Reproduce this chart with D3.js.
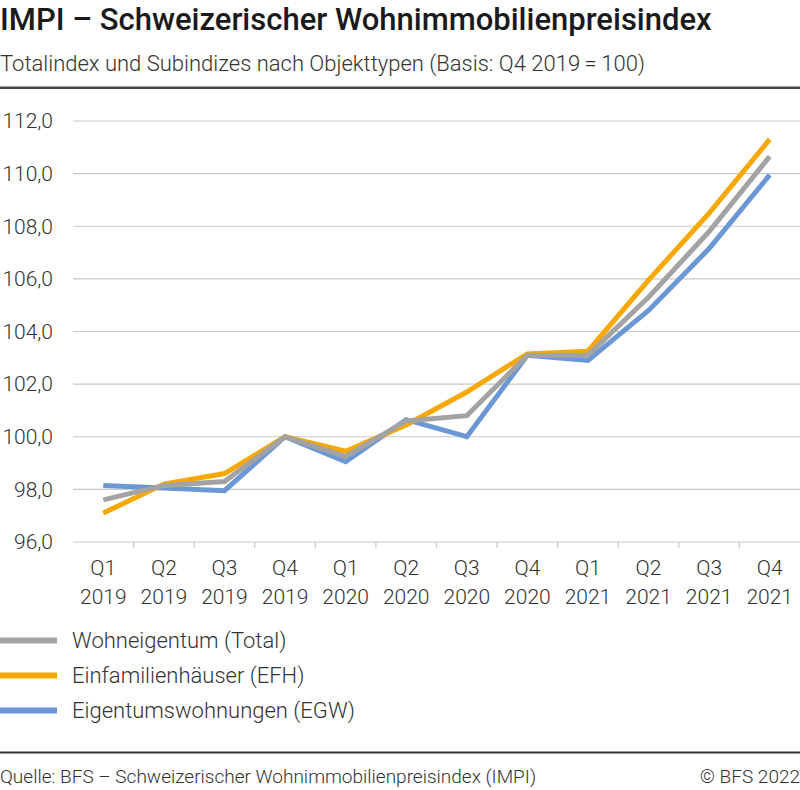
<!DOCTYPE html>
<html>
<head>
<meta charset="utf-8">
<script src="https://d3js.org/d3.v7.min.js"></script>
<style>
	body, html {
		margin: 0;
		padding: 0;
		font-family: "Roboto", sans-serif;
		background: #fff;
	}
	.title { font-size: 31px; font-weight: 500; fill: #1a1a1a; }
	.subtitle { font-size: 22px; font-weight: 300; fill: #333; }
	.tick-label { font-size: 21px; font-weight: 300; fill: #333; }
	.legend-label { font-size: 22px; font-weight: 300; fill: #333; }
	.footer { font-size: 19px; font-weight: 300; fill: #333; }
	.grid line { stroke: #c8c8c8; stroke-width: 1.2; }
	.series { fill: none; stroke-width: 5; stroke-linejoin: miter; }
</style>
</head>
<body>
<script>

	var quarters = ["Q1", "Q2", "Q3", "Q4", "Q1", "Q2", "Q3", "Q4", "Q1", "Q2", "Q3", "Q4"];
	var years = ["2019", "2019", "2019", "2019", "2020", "2020", "2020", "2020", "2021", "2021", "2021", "2021"];
	var yTicks = [96, 98, 100, 102, 104, 106, 108, 110, 112];

	var totalValues = [97.6, 98.15, 98.3, 100.0, 99.25, 100.6, 100.8, 103.1, 103.1, 105.3, 107.8, 110.65];
	var efhValues   = [97.1, 98.2, 98.6, 100.0, 99.45, 100.45, 101.7, 103.15, 103.25, 105.95, 108.5, 111.3];
	var egwValues   = [98.15, 98.05, 97.95, 100.0, 99.05, 100.65, 100.0, 103.1, 102.9, 104.8, 107.15, 109.95];

	var seriesNames = ["Wohneigentum (Total)", "Einfamilienhäuser (EFH)", "Eigentumswohnungen (EGW)"];
	var seriesColors = ["#a3a3a3", "#f8a800", "#6b98d4"];

	var series = [
		{name: seriesNames[0], color: seriesColors[0], values: totalValues},
		{name: seriesNames[1], color: seriesColors[1], values: efhValues},
		{name: seriesNames[2], color: seriesColors[2], values: egwValues}
	];

	var w = 800;
	var h = 790;
	var margin = {top: 121, bottom: 248, left: 73, right: 0};
	var width = w - margin.left - margin.right;
	var height = h - margin.top - margin.bottom;

	var keys = quarters.map(function(q, i){ return i; });

	var x = d3.scaleBand()
				.domain(keys)
				.range([0, width]);

	var y = d3.scaleLinear()
				.domain([96, 112])
				.range([height, 0]);

	var svg = d3.select("body").append("svg")
				.attr("width", w)
				.attr("height", h);

	// header
	svg.append("text").attr("class", "title")
		.attr("x", 0).attr("y", 30)
		.text("IMPI – Schweizerischer Wohnimmobilienpreisindex");
	svg.append("text").attr("class", "subtitle")
		.attr("x", 0).attr("y", 71)
		.text("Totalindex und Subindizes nach Objekttypen (Basis: Q4 2019\u2009=\u2009100)");
	svg.append("rect")
		.attr("x", 0).attr("y", 86.5).attr("width", w).attr("height", 2.5)
		.attr("fill", "#4a4a4a");

	var chart = svg.append("g")
				.attr("transform", "translate(" + margin.left + "," + margin.top + ")");

	// gridlines
	chart.append("g").attr("class", "grid")
		.selectAll("line")
		.data(yTicks.filter(function(d){ return d > 96; }))
		.enter().append("line")
			.attr("x1", 0).attr("x2", width)
			.attr("y1", function(d){ return y(d); })
			.attr("y2", function(d){ return y(d); });

	// y labels
	chart.selectAll(".y-label")
		.data(yTicks)
		.enter().append("text")
			.attr("class", "tick-label")
			.attr("x", -20)
			.attr("y", function(d){ return y(d); })
			.attr("dy", "0.35em")
			.attr("text-anchor", "end")
			.text(function(d){ return d3.format(".1f")(d).replace(".", ","); });

	// x axis
	var xAxis = chart.append("g")
		.attr("transform", "translate(0," + height + ")");
	xAxis.append("line")
		.attr("x1", 0).attr("x2", width)
		.attr("stroke", "#c8c8c8").attr("stroke-width", 1.2);
	xAxis.selectAll(".tick")
		.data(keys.slice(1))
		.enter().append("line")
			.attr("x1", function(d){ return x(d); })
			.attr("x2", function(d){ return x(d); })
			.attr("y1", 0).attr("y2", 6)
			.attr("stroke", "#c8c8c8").attr("stroke-width", 1.2);

	var xLabels = xAxis.selectAll(".x-label")
		.data(keys)
		.enter().append("text")
			.attr("class", "tick-label")
			.attr("text-anchor", "middle")
			.attr("x", function(d){ return x(d) + x.bandwidth() / 2; });
	xLabels.append("tspan")
		.attr("x", function(d){ return x(d) + x.bandwidth() / 2; })
		.attr("y", 33)
		.text(function(d){ return quarters[d]; });
	xLabels.append("tspan")
		.attr("x", function(d){ return x(d) + x.bandwidth() / 2; })
		.attr("y", 62)
		.text(function(d){ return years[d]; });

	// lines
	var line = d3.line()
		.x(function(d, i){ return x(i) + x.bandwidth() / 2; })
		.y(function(d){ return y(d); });

	chart.selectAll(".series")
		.data(series.slice().reverse())
		.enter().append("path")
			.attr("class", "series")
			.attr("stroke", function(d){ return d.color; })
			.attr("d", function(d){ return line(d.values); });

	// legend
	var legend = svg.selectAll(".legend")
		.data(series)
		.enter().append("g")
			.attr("transform", function(d, i){ return "translate(0," + (640.5 + i * 35) + ")"; });
	legend.append("rect")
		.attr("x", 0).attr("y", -3).attr("width", 57).attr("height", 6)
		.attr("fill", function(d){ return d.color; });
	legend.append("text")
		.attr("class", "legend-label")
		.attr("x", 72).attr("dy", "0.35em")
		.text(function(d){ return d.name; });

	// footer
	svg.append("rect")
		.attr("x", 0).attr("y", 751.5).attr("width", w).attr("height", 2)
		.attr("fill", "#333");
	svg.append("text").attr("class", "footer")
		.attr("x", 0).attr("y", 783)
		.text("Quelle: BFS – Schweizerischer Wohnimmobilienpreisindex (IMPI)");
	svg.append("text").attr("class", "footer")
		.attr("x", w).attr("y", 783).attr("text-anchor", "end")
		.text("© BFS 2022");

</script>
</body>
</html>
